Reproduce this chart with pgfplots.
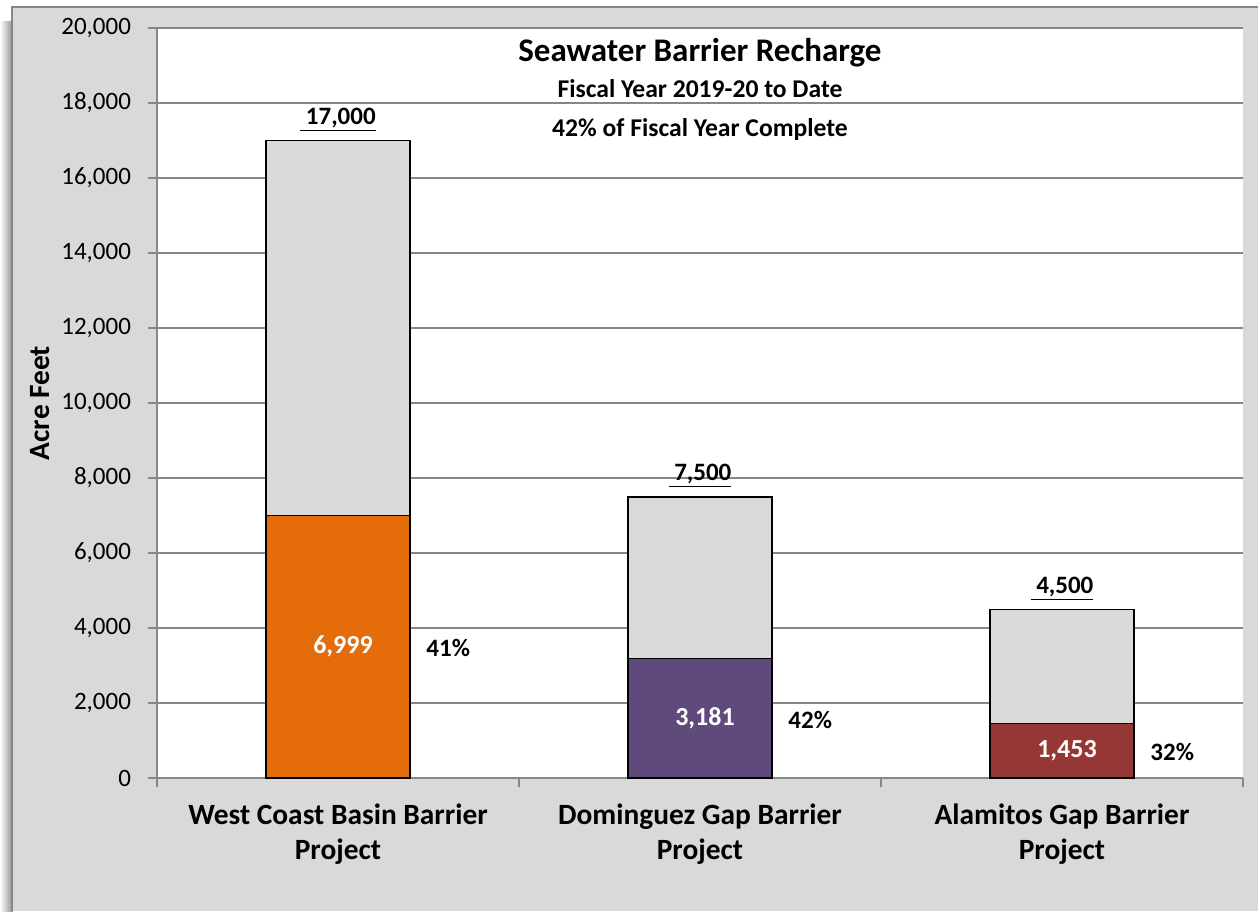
\documentclass[border=0pt]{standalone}
\usepackage{fontspec}
\setmainfont{Carlito}
\usepackage{pgfplots}
\pgfplotsset{compat=1.18}
\definecolor{wcbOrange}{RGB}{228,108,10}
\definecolor{dgbPurple}{RGB}{96,74,123}
\definecolor{agbRed}{RGB}{149,55,53}
\definecolor{barGray}{RGB}{217,217,217}
\definecolor{frameGray}{RGB}{217,217,217}
\definecolor{gridGray}{RGB}{134,134,134}

\begin{document}
\begin{tikzpicture}
\useasboundingbox (-78.5pt,-66.5pt) rectangle (550.5pt,389pt);
\fill[white] (-78.5pt,-66.5pt) rectangle (550.5pt,389pt);
% soft shadow on the left of the chart frame
\shade[left color=white, right color=black!45] (-78.5pt,-66.5pt) rectangle (-72pt,378pt);
\fill[frameGray] (-72.5pt,-66.5pt) rectangle (550.5pt,385.5pt);
\draw[gridGray, line width=1pt] (-72.5pt,-66.5pt) -- (-72.5pt,385.5pt) -- (550.5pt,385.5pt);

\begin{axis}[
    scale only axis,
    width=543pt, height=375pt,
    xmin=-0.5, xmax=2.5, ymin=0, ymax=20000,
    axis background/.style={fill=white},
    axis x line*=bottom, axis y line*=left,
    axis line style={gridGray, line width=1pt},
    ytick={0,2000,...,20000},
    scaled y ticks=false,
    ymajorgrids, grid style={gridGray, line width=1pt},
    tick align=outside, major tick length=4.5pt, minor tick length=4.5pt,
    y tick style={gridGray, line width=1pt},
    xtick={0,1,2}, minor xtick={-0.5,0.5,1.5,2.5},
    major x tick style={draw=none},
    minor x tick style={gridGray, line width=1pt},
    xticklabels={West Coast Basin Barrier\\Project, Dominguez Gap Barrier\\Project, Alamitos Gap Barrier\\Project},
    xticklabel style={align=center, yshift=-5pt, font=\bfseries\fontsize{14.7}{17.5}\selectfont},
    yticklabel style={xshift=-5pt, font=\fontsize{12.5}{15}\selectfont},
    /pgf/number format/.cd, 1000 sep={,}, assume math mode=true,
    /pgfplots/.cd,
    clip=false,
]

% annual targets (grey) with underlined totals on top
\addplot[ybar, bar width=72pt, bar shift=0pt, fill=barGray, draw=black, line width=0.75pt,
    nodes near coords={\underline{\ \pgfmathprintnumber{\pgfplotspointmeta}}},
    every node near coord/.append style={anchor=south, inner sep=0pt, yshift=4pt,
        text=black, font=\bfseries\fontsize{12.5}{15}\selectfont}]
    coordinates {(0,17000) (1,7500) (2,4500)};

% recharge to date
\addplot[ybar, bar width=72pt, bar shift=0pt, fill=wcbOrange, draw=black, line width=0.75pt]
    coordinates {(0,6999)};
\addplot[ybar, bar width=72pt, bar shift=0pt, fill=dgbPurple, draw=black, line width=0.75pt]
    coordinates {(1,3181)};
\addplot[ybar, bar width=72pt, bar shift=0pt, fill=agbRed, draw=black, line width=0.75pt]
    coordinates {(2,1453)};

\begin{scope}[every node/.style={font=\bfseries\fontsize{12.5}{15}\selectfont, inner sep=0pt}]
\node[white, font=\bfseries\fontsize{13}{15}\selectfont, xshift=2.5pt] at (axis cs:0,3499.5) {6,999};
\node[white, font=\bfseries\fontsize{13}{15}\selectfont, xshift=2.5pt] at (axis cs:1,1590.5) {3,181};
\node[white, font=\bfseries\fontsize{13}{15}\selectfont, xshift=2.5pt] at (axis cs:2,726.5) {1,453};
\node[anchor=west, xshift=44pt] at (axis cs:0,3470) {41\%};
\node[anchor=west, xshift=44pt] at (axis cs:1,1540) {42\%};
\node[anchor=west, xshift=44pt] at (axis cs:2,690) {32\%};
\end{scope}

\node[font=\bfseries\fontsize{16.5}{19}\selectfont] at (axis cs:1,19333) {Seawater Barrier Recharge};
\node[font=\bfseries\fontsize{12.8}{15}\selectfont] at (axis cs:1,18380) {Fiscal Year 2019-20 to Date};
\node[font=\bfseries\fontsize{12.8}{15}\selectfont] at (axis cs:1,17280) {42\% of Fiscal Year Complete};
\node[rotate=90, font=\bfseries\fontsize{14.7}{17}\selectfont] at ([xshift=-58.5pt]rel axis cs:0,0.5) {Acre Feet};
\end{axis}
\end{tikzpicture}
\end{document}
